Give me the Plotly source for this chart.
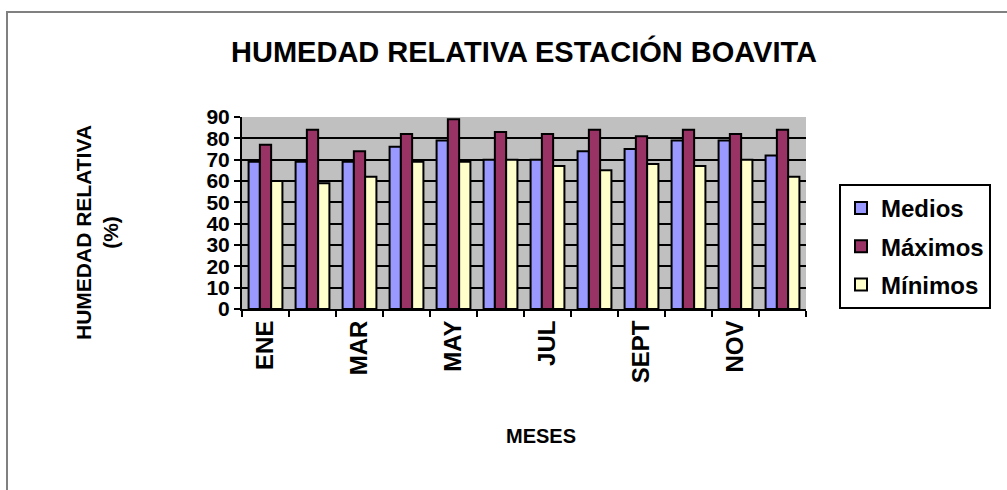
import plotly.graph_objects as go

meses = ["ENE", "FEB", "MAR", "ABR", "MAY", "JUN", "JUL", "AGO", "SEPT", "OCT", "NOV", "DIC"]
medios = [69, 69, 69, 76, 79, 70, 70, 74, 75, 79, 79, 72]
maximos = [77, 84, 74, 82, 89, 83, 82, 84, 81, 84, 82, 84]
minimos = [60, 59, 62, 69, 69, 70, 67, 65, 68, 67, 70, 62]
tick_text = [m if i % 2 == 0 else "" for i, m in enumerate(meses)]

FONT = "Liberation Sans, Arial, sans-serif"

fig = go.Figure()
series = [("Medios", medios, "#9999FF"), ("Máximos", maximos, "#993366"), ("Mínimos", minimos, "#FFFFCC")]
for name, vals, col in series:
    fig.add_trace(go.Bar(
        x=meses, y=vals, name=name, legendgroup=name,
        marker=dict(color=col, line=dict(color="black", width=2)),
    ))

fig.update_layout(
    width=1007, height=490,
    margin=dict(l=242, r=201, t=117, b=181),
    paper_bgcolor="white", plot_bgcolor="#C0C0C0",
    font=dict(family=FONT, color="black", weight="bold"),
    barmode="group", bargap=0.28, bargroupgap=0.0,
    title=dict(text="HUMEDAD RELATIVA ESTACIÓN BOAVITA", x=524 / 1007, xanchor="center",
               y=1 - 52 / 490, yanchor="middle",
               font=dict(size=29, family=FONT, weight="bold")),
    legend=dict(x=(839 - 242) / 564, xanchor="left", y=(309 - 184) / 192, yanchor="top",
                bordercolor="black", borderwidth=2, bgcolor="white",
                font=dict(size=24, family=FONT, weight="bold"), tracegroupgap=4,
                itemclick=False),
    xaxis=dict(
        type="category", tickmode="array", tickvals=meses, ticktext=tick_text,
        tickson="boundaries", ticks="outside", ticklen=6, tickcolor="black", tickwidth=2,
        tickangle=-90, tickfont=dict(size=24, family=FONT, weight="bold"),
        showline=True, linecolor="black", linewidth=2, showgrid=False,
    ),
    yaxis=dict(
        range=[0, 90], tickmode="linear", tick0=0, dtick=10,
        ticks="outside", ticklen=6, tickcolor="black", tickwidth=2,
        tickfont=dict(size=21, family=FONT, weight="bold"),
        showline=True, linecolor="black", linewidth=2,
        showgrid=True, gridcolor="black", gridwidth=2, zeroline=False,
    ),
    annotations=[
        dict(text="HUMEDAD RELATIVA<br>(%)", textangle=-90, xref="paper", yref="paper",
             x=(97 - 242) / 564, y=(309 - 233) / 192, xanchor="center", yanchor="middle",
             showarrow=False, font=dict(size=21, family=FONT, weight="bold")),
        dict(text="MESES", xref="paper", yref="paper",
             x=(541 - 242) / 564, y=(309 - 436) / 192, xanchor="center", yanchor="middle",
             showarrow=False, font=dict(size=20, family=FONT, weight="bold")),
    ],
    shapes=[
        dict(type="rect", xref="paper", yref="paper",
             x0=(7 - 242) / 564, x1=(1015 - 242) / 564,
             y0=(309 - 500) / 192, y1=(309 - 12) / 192,
             line=dict(color="#808080", width=2), fillcolor="rgba(0,0,0,0)", layer="below"),
    ],
)

fig.write_html("out.html", config={"displayModeBar": False},
               post_script="document.body.style.margin='0';document.body.style.overflow='hidden';")
